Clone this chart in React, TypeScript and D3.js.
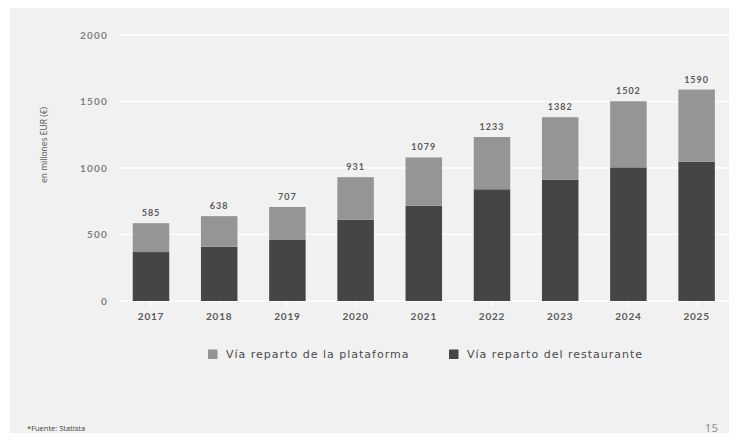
import React from "react";
import * as d3 from "d3";

// Online food delivery revenue in Spain, millions EUR
const years = ["2017", "2018", "2019", "2020", "2021", "2022", "2023", "2024", "2025"];
const totals = [585, 638, 707, 931, 1079, 1233, 1382, 1502, 1590];
const restaurantDelivery = [368, 408, 459, 611, 717, 840, 912, 1005, 1047];
const platformDelivery = totals.map((t, i) => t - restaurantDelivery[i]);
const yTicks = [0, 500, 1000, 1500, 2000];
const seriesNames = ["Vía reparto de la plataforma", "Vía reparto del restaurante"];

const W = 737;
const H = 441;
const COL_PLATFORM = "#959595";
const COL_RESTAURANT = "#454545";
const TEXT = "#5a5a5a";
const FONT = "Lato, 'Open Sans', sans-serif";
const WIDE = "'DejaVu Sans', sans-serif";

export default function App() {
  const x = d3
    .scaleBand<string>()
    .domain(years)
    .range([116.9, 730.7])
    .paddingInner(0.465)
    .paddingOuter(0.2325);
  const y = d3.scaleLinear().domain([0, 2000]).range([301, 35]);

  const stackData = years.map((yr, i) => ({
    year: yr,
    restaurant: restaurantDelivery[i],
    platform: platformDelivery[i],
  }));
  const stack = d3.stack<any>().keys(["restaurant", "platform"]);
  const layers = stack(stackData);
  const colors: Record<string, string> = { restaurant: COL_RESTAURANT, platform: COL_PLATFORM };

  return (
    <div style={{ margin: -8, width: W, height: H, overflow: "hidden" }}>
      <svg width={W} height={H} style={{ display: "block" }}>
        <rect x={0} y={0} width={W} height={H} fill="#ffffff" />
        <rect x={10} y={7} width={W - 10} height={H - 7} fill="#f1f1f1" />

        {/* gridlines and y tick labels */}
        {yTicks.map((t) => (
          <g key={t}>
            <line x1={120} x2={W} y1={y(t)} y2={y(t)} stroke="#ffffff" strokeWidth={1.5} />
            <text
              x={108}
              y={y(t)}
              dy="0.35em"
              textAnchor="end"
              fontFamily={FONT}
              fontSize={10}
              fontWeight={700}
              letterSpacing={1.2}
              fill="#808080"
            >
              {t}
            </text>
          </g>
        ))}

        <text
          transform={`translate(47,145) rotate(-90)`}
          textAnchor="middle"
          fontFamily="'Open Sans', sans-serif"
          fontSize={8.5}
          fill="#555"
        >
          en millones EUR (€)
        </text>

        {/* stacked bars */}
        {layers.map((layer) => (
          <g key={layer.key} fill={colors[layer.key]}>
            {layer.map((d: any) => (
              <rect
                key={d.data.year}
                x={x(d.data.year)}
                y={y(d[1])}
                width={x.bandwidth()}
                height={y(d[0]) - y(d[1])}
              />
            ))}
          </g>
        ))}

        {/* x axis ticks and labels */}
        {years.map((yr) => {
          const cx = (x(yr) as number) + x.bandwidth() / 2;
          return (
            <g key={yr}>
              <line x1={cx} x2={cx} y1={301} y2={306} stroke="#ffffff" strokeWidth={1.5} />
              <text
                x={cx}
                y={320}
                textAnchor="middle"
                fontFamily={FONT}
                fontSize={10}
                fontWeight={700}
                letterSpacing={0.8}
                fill={TEXT}
              >
                {yr}
              </text>
            </g>
          );
        })}

        {/* total labels */}
        {years.map((yr, i) => {
          const cx = (x(yr) as number) + x.bandwidth() / 2;
          return (
            <text
              key={yr}
              x={cx}
              y={y(totals[i]) - 7}
              textAnchor="middle"
              fontFamily={FONT}
              fontSize={9}
              fontWeight={700}
              letterSpacing={1}
              fill={TEXT}
            >
              {totals[i]}
            </text>
          );
        })}

        {/* legend */}
        {[COL_PLATFORM, COL_RESTAURANT].map((c, i) => {
          const lx = i === 0 ? 208 : 449;
          return (
            <g key={i}>
              <rect x={lx} y={349.5} width={9.5} height={9.5} fill={c} />
              <text
                x={lx + 18}
                y={354.5}
                dy="0.35em"
                fontFamily={WIDE}
                fontSize={11}
                letterSpacing={1}
                fill="#4a4a4a"
              >
                {seriesNames[i]}
              </text>
            </g>
          );
        })}

        <text x={27} y={431} fontFamily="'Open Sans', sans-serif" fontSize={7.5} fill="#444">
          *Fuente: Statista
        </text>
        <text x={718} y={432} textAnchor="end" fontFamily="'Open Sans', sans-serif" fontSize={11.5} fill="#8a8a8a">
          15
        </text>
      </svg>
    </div>
  );
}
